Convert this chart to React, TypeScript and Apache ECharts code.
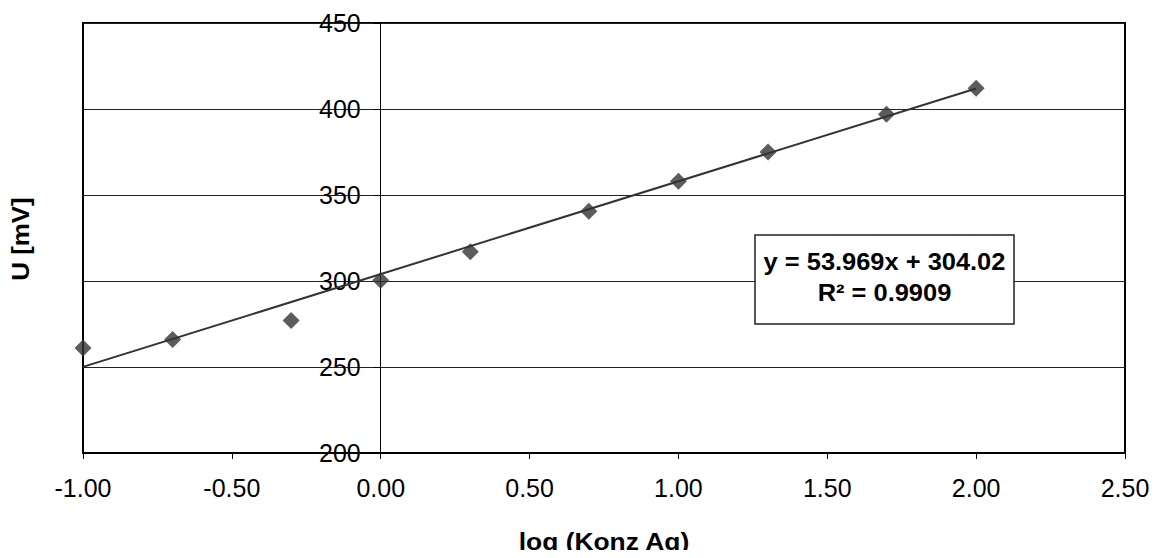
import React, { useEffect, useRef } from "react";
import * as echarts from "echarts";

const xValues = [-1, -0.699, -0.301, 0, 0.301, 0.699, 1, 1.301, 1.699, 2];
const yValues = [261, 266, 277, 300.5, 317, 340.5, 358, 375, 397, 412];
const slope = 53.969;
const intercept = 304.02;
const rSquared = "0.9909";
const xTitle = "log (Konz Ag)";
const yTitle = "U [mV]";

const FONT = "'Liberation Sans', Arial, sans-serif";

const GRID_LEFT = 83;
const GRID_RIGHT = 33;
const WIDTH = 1158;
const X_MIN = -1;
const X_MAX = 2.5;

export default function App() {
  const ref = useRef<HTMLDivElement>(null);
  useEffect(() => {
    if (!ref.current) return;
    const chart = echarts.init(ref.current, null, { renderer: "svg" });
    const points = xValues.map((x, i) => [x, yValues[i]]);
    const xMin = xValues[0];
    const xMax = xValues[xValues.length - 1];
    const trend = [
      [xMin, slope * xMin + intercept],
      [xMax, slope * xMax + intercept],
    ];
    const plotW = WIDTH - GRID_LEFT - GRID_RIGHT;
    const zeroOffset = -((0 - X_MIN) / (X_MAX - X_MIN)) * plotW;
    chart.setOption({
      animation: false,
      backgroundColor: "#fff",
      textStyle: { fontFamily: FONT },
      grid: {
        left: GRID_LEFT,
        right: GRID_RIGHT,
        top: 23,
        bottom: 105,
        show: true,
        borderColor: "#000",
        borderWidth: 2,
        backgroundColor: "transparent",
      },
      xAxis: {
        type: "value",
        min: X_MIN,
        max: X_MAX,
        interval: 0.5,
        axisLine: { onZero: false, lineStyle: { color: "#000", width: 2 } },
        axisTick: { show: true, inside: false, length: 6, lineStyle: { color: "#000" } },
        axisLabel: {
          margin: 22,
          fontSize: 25,
          color: "#000",
          fontFamily: FONT,
          formatter: (v: number) => v.toFixed(2),
        },
        splitLine: { show: false },
      },
      yAxis: {
        type: "value",
        min: 200,
        max: 450,
        interval: 50,
        offset: zeroOffset,
        axisLine: { show: true, onZero: false, lineStyle: { color: "#000", width: 1 } },
        axisTick: { show: true, inside: false, length: 7, lineStyle: { color: "#000" } },
        axisLabel: {
          margin: 20,
          fontSize: 25,
          color: "#000",
          fontFamily: FONT,
        },
        splitLine: { show: true, lineStyle: { color: "#222", width: 1 } },
      },
      series: [
        {
          type: "line",
          data: trend,
          symbol: "none",
          lineStyle: { color: "#333", width: 2 },
          z: 2,
        },
        {
          type: "scatter",
          data: points,
          symbol: "diamond",
          symbolSize: 17,
          itemStyle: { color: "#333" },
          z: 3,
        },
      ],
      graphic: [
        {
          type: "text",
          x: 20,
          y: 239,
          rotation: Math.PI / 2,
          scaleX: 1.08,
          style: {
            text: yTitle,
            font: `bold 24px ${FONT}`,
            fill: "#000",
            align: "center",
            verticalAlign: "middle",
          },
        },
        {
          type: "text",
          x: 604,
          y: 541,
          scaleX: 1.1,
          style: {
            text: xTitle,
            font: `bold 24px ${FONT}`,
            fill: "#000",
            align: "center",
            verticalAlign: "middle",
          },
        },
        {
          type: "rect",
          shape: { x: 755, y: 235, width: 259, height: 89 },
          style: { fill: "#fff", stroke: "#222", lineWidth: 1.5 },
          z: 10,
        },
        {
          type: "text",
          x: 884.5,
          y: 262,
          z: 11,
          scaleX: 1.06,
          style: {
            text: `y = ${slope}x + ${intercept}`,
            font: `bold 24px ${FONT}`,
            fill: "#000",
            align: "center",
            verticalAlign: "middle",
          },
        },
        {
          type: "text",
          x: 884.5,
          y: 293,
          z: 11,
          scaleX: 1.06,
          style: {
            text: `R² = ${rSquared}`,
            font: `bold 24px ${FONT}`,
            fill: "#000",
            align: "center",
            verticalAlign: "middle",
          },
        },
      ],
    });
    return () => chart.dispose();
  }, []);
  return <div ref={ref} style={{ width: 1158, height: 558, margin: -8 }} />;
}
